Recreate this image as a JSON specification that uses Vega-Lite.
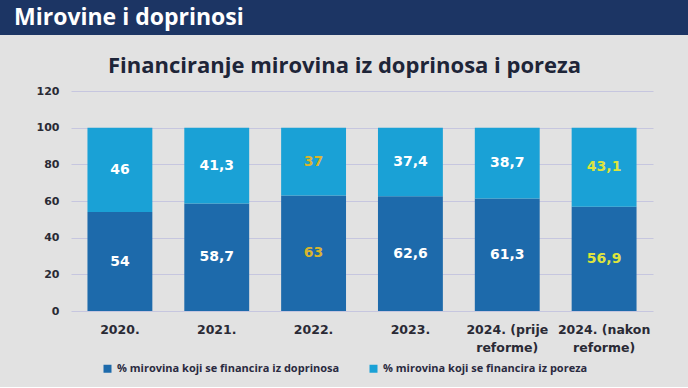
{
  "$schema": "https://vega.github.io/schema/vega-lite/v6.json",
  "background": "#e2e2e2",
  "padding": {"left": 0, "top": 0, "right": 0, "bottom": 13},
  "spacing": 20,
  "center": true,
  "config": {
    "locale": {"number": {"decimal": ",", "thousands": ".", "grouping": [3], "currency": ["", " €"]}},
    "view": {"stroke": null}
  },
  "vconcat": [
    {
      "width": 688,
      "height": 35,
      "view": {"fill": "#1c3564", "stroke": null},
      "data": {"values": [{"header": "Mirovine i doprinosi"}]},
      "mark": {"type": "text", "align": "left", "baseline": "middle", "dx": 14, "fontSize": 23, "fontWeight": "bold", "color": "white", "font": "Open Sans"},
      "encoding": {
        "x": {"datum": 0, "type": "quantitative", "scale": {"domain": [0, 1]}, "axis": null},
        "y": {"datum": 0.5, "type": "quantitative", "scale": {"domain": [0, 1]}, "axis": null},
        "text": {"field": "header"}
      }
    },
    {
      "spacing": 0,
      "hconcat": [
        {
          "width": 1,
          "height": 1,
          "data": {"values": []},
          "mark": {"type": "point", "opacity": 0},
          "encoding": {}
        },
        {
          "width": 582,
          "height": 220,
          "title": {"text": "Financiranje mirovina iz doprinosa i poreza", "fontSize": 22, "fontWeight": "bold", "color": "#1e2538", "offset": 7, "font": "Open Sans", "anchor": "middle", "frame": "bounds"},
          "data": {
            "values": [
              {"year": "2020.", "series": "% mirovina koji se financira iz doprinosa", "value": 54},
              {"year": "2020.", "series": "% mirovina koji se financira iz poreza", "value": 46},
              {"year": "2021.", "series": "% mirovina koji se financira iz doprinosa", "value": 58.7},
              {"year": "2021.", "series": "% mirovina koji se financira iz poreza", "value": 41.3},
              {"year": "2022.", "series": "% mirovina koji se financira iz doprinosa", "value": 63},
              {"year": "2022.", "series": "% mirovina koji se financira iz poreza", "value": 37},
              {"year": "2023.", "series": "% mirovina koji se financira iz doprinosa", "value": 62.6},
              {"year": "2023.", "series": "% mirovina koji se financira iz poreza", "value": 37.4},
              {"year": "2024. (prije reforme)", "series": "% mirovina koji se financira iz doprinosa", "value": 61.3},
              {"year": "2024. (prije reforme)", "series": "% mirovina koji se financira iz poreza", "value": 38.7},
              {"year": "2024. (nakon reforme)", "series": "% mirovina koji se financira iz doprinosa", "value": 56.9},
              {"year": "2024. (nakon reforme)", "series": "% mirovina koji se financira iz poreza", "value": 43.1}
            ]
          },
          "encoding": {
            "x": {
              "field": "year", "type": "nominal", "sort": null,
              "scale": {"paddingInner": 0.33, "paddingOuter": 0.17},
              "axis": {
                "title": null, "labelAngle": 0, "ticks": false, "domain": false, "grid": false,
                "labelFont": "DejaVu Sans", "labelFontSize": 12.5, "labelFontWeight": "bold", "labelColor": "#2a2a35",
                "labelPadding": 12, "labelLineHeight": 18, "labelBaseline": "top",
                "labelExpr": "datum.value == '2024. (prije reforme)' ? ['2024. (prije', 'reforme)'] : datum.value == '2024. (nakon reforme)' ? ['2024. (nakon', 'reforme)'] : datum.label"
              }
            }
          },
          "layer": [
            {
              "mark": {"type": "bar"},
              "encoding": {
                "y": {
                  "field": "value", "type": "quantitative", "stack": "zero",
                  "scale": {"domain": [0, 120]},
                  "axis": {
                    "title": null, "values": [0, 20, 40, 60, 80, 100, 120], "ticks": false, "domain": false,
                    "gridColor": "#c6c6df", "gridWidth": 1, "labelOverlap": false,
                    "labelFont": "DejaVu Sans", "labelFontSize": 11, "labelFontWeight": "bold", "labelColor": "#2a2a35", "labelPadding": 12
                  }
                },
                "order": {"field": "series", "sort": "ascending"},
                "color": {
                  "field": "series", "type": "nominal",
                  "scale": {
                    "domain": ["% mirovina koji se financira iz doprinosa", "% mirovina koji se financira iz poreza"],
                    "range": ["#1d6aab", "#1aa1d6"]
                  },
                  "legend": {
                    "title": null, "orient": "none", "direction": "horizontal", "legendX": 102, "legendY": 363,
                    "symbolType": "square", "symbolSize": 64, "symbolStrokeWidth": 0,
                    "labelFont": "Open Sans", "labelFontSize": 11, "labelFontWeight": "bold", "labelColor": "#2a2a40",
                    "labelOffset": 4, "columnPadding": 28, "labelLimit": 400
                  }
                }
              }
            },
            {
              "transform": [
                {"stack": "value", "groupby": ["year"], "sort": [{"field": "series", "order": "ascending"}], "as": ["v0", "v1"]},
                {"calculate": "(datum.v0 + datum.v1) / 2", "as": "mid"}
              ],
              "mark": {"type": "text", "font": "DejaVu Sans", "fontSize": 14, "fontWeight": "bold", "baseline": "middle"},
              "encoding": {
                "y": {
                  "field": "mid", "type": "quantitative",
                  "scale": {"domain": [0, 120]},
                  "axis": {
                    "title": null, "values": [0, 20, 40, 60, 80, 100, 120], "ticks": false, "domain": false,
                    "gridColor": "#c6c6df", "gridWidth": 1, "labelOverlap": false,
                    "labelFont": "DejaVu Sans", "labelFontSize": 11, "labelFontWeight": "bold", "labelColor": "#2a2a35", "labelPadding": 12
                  }
                },
                "text": {"field": "value", "type": "quantitative", "format": "~g"},
                "color": {
                  "condition": [
                    {"test": "datum.year === '2022.'", "value": "#d8b52e"},
                    {"test": "datum.year === '2024. (nakon reforme)'", "value": "#dde43e"}
                  ],
                  "value": "white"
                }
              }
            }
          ]
        }
      ]
    }
  ]
}
